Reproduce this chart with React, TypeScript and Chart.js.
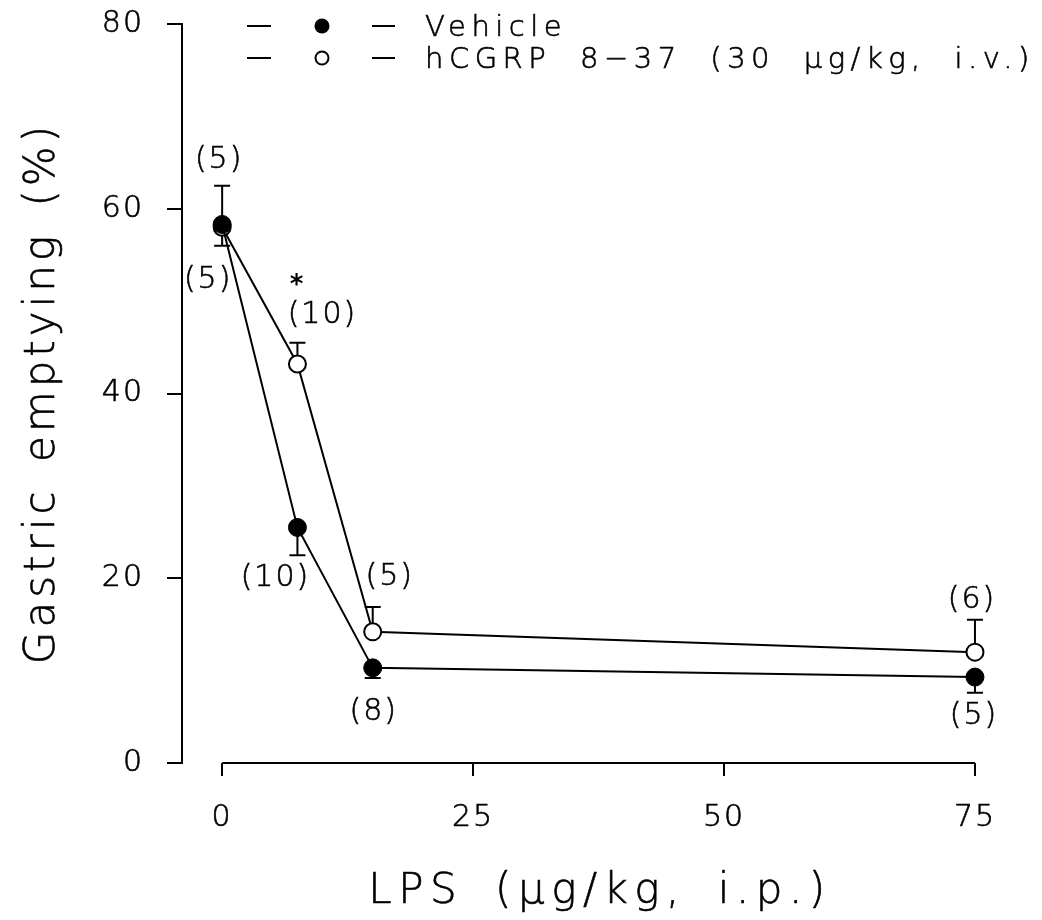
import React, { useEffect, useRef } from "react";
import { Chart, registerables } from "chart.js";

Chart.register(...registerables);

// LPS doses (µg/kg, i.p.)
const doses = [0, 7.5, 15, 75];

// Gastric emptying (%), mean and SEM per group
const vehicleMean = [58.3, 25.5, 10.3, 9.3];
const vehicleSem = [2.3, 3.0, 1.1, 1.7];
const hcgrpMean = [58.0, 43.2, 14.2, 12.0];
const hcgrpSem = [4.5, 2.3, 2.7, 3.5];

// Number of animals per point
const vehicleN = ["(5)", "(10)", "(8)", "(5)"];
const hcgrpN = ["(5)", "(10)", "(5)", "(6)"];
// Significance marker per hCGRP point ("" = none)
const hcgrpSig = ["", "*", "", ""];

const xTickValues = [0, 25, 50, 75];
const yTickValues = [0, 20, 40, 60, 80];

const seriesNames = ["Vehicle", "hCGRP 8\u221237 (30 \u03bcg/kg, i.v.)"];
const xTitle = "LPS (\u03bcg/kg, i.p.)";
const yTitle = "Gastric emptying (%)";

// Label placement (pixel offsets from each point)
const vehicleNOffset: [number, number][] = [[-14, 56], [-22, 51], [1, 44], [-1, 39]];
const hcgrpNOffset: [number, number][] = [[-3, -67], [25, -49], [17, -55], [-3, -52]];
const hcgrpSigOffset: [number, number][] = [[0, 0], [-1, -86], [0, 0], [0, 0]];

const FAMILY = "'DejaVu Sans', sans-serif";
const WEIGHT = 200;
const INK = "#000";
const TEXT_STROKE = 0.6;

export default function App() {
  const canvasRef = useRef<HTMLCanvasElement | null>(null);

  useEffect(() => {
    document.body.style.margin = "0";
    const canvas = canvasRef.current;
    if (!canvas) return;

    const setSpacing = (ctx: any, ls: number, ws = 0) => {
      ctx.letterSpacing = ls + "px";
      ctx.wordSpacing = ws + "px";
    };

    // filled glyphs with a hairline outline to give the light face a pen-like weight
    const text = (ctx: CanvasRenderingContext2D, s: string, x: number, y: number) => {
      ctx.fillText(s, x, y);
      ctx.lineWidth = TEXT_STROKE;
      ctx.strokeText(s, x, y);
    };

    const errorBars = {
      id: "errorBars",
      beforeDatasetsDraw(chart: any) {
        const { ctx, scales } = chart;
        const xs = scales.x;
        const ys = scales.y;
        ctx.save();
        ctx.strokeStyle = INK;
        ctx.lineWidth = 2;
        const draw = (means: number[], sems: number[], dir: number) => {
          means.forEach((m, i) => {
            const px = xs.getPixelForValue(doses[i]);
            const y0 = ys.getPixelForValue(m);
            const y1 = ys.getPixelForValue(m + dir * sems[i]);
            ctx.beginPath();
            ctx.moveTo(px, y0);
            ctx.lineTo(px, y1);
            ctx.moveTo(px - 8, y1);
            ctx.lineTo(px + 8, y1);
            ctx.stroke();
          });
        };
        draw(hcgrpMean, hcgrpSem, 1);
        draw(vehicleMean, vehicleSem, -1);
        ctx.restore();
      },
    };

    const decorations = {
      id: "decorations",
      beforeDraw(chart: any) {
        setSpacing(chart.ctx, 2);
      },
      afterDraw(chart: any) {
        const { ctx, scales } = chart;
        const xs = scales.x;
        const ys = scales.y;
        ctx.save();
        ctx.fillStyle = INK;
        ctx.strokeStyle = INK;

        // x axis line spanning the dose range only
        ctx.lineWidth = 2;
        ctx.beginPath();
        const yb = ys.getPixelForValue(0);
        ctx.moveTo(xs.getPixelForValue(xTickValues[0]), yb);
        ctx.lineTo(xs.getPixelForValue(xTickValues[xTickValues.length - 1]), yb);
        ctx.stroke();

        // n labels
        ctx.font = `${WEIGHT} 30px ${FAMILY}`;
        setSpacing(ctx, 2);
        ctx.textAlign = "center";
        ctx.textBaseline = "middle";
        doses.forEach((d, i) => {
          const px = xs.getPixelForValue(d);
          const pv = ys.getPixelForValue(vehicleMean[i]);
          const ph = ys.getPixelForValue(hcgrpMean[i]);
          text(ctx, vehicleN[i], px + vehicleNOffset[i][0], pv + vehicleNOffset[i][1]);
          text(ctx, hcgrpN[i], px + hcgrpNOffset[i][0], ph + hcgrpNOffset[i][1]);
          if (hcgrpSig[i]) {
            ctx.save();
            ctx.font = `bold 26px ${FAMILY}`;
            setSpacing(ctx, 0);
            ctx.textBaseline = "alphabetic";
            ctx.fillText(hcgrpSig[i], px + hcgrpSigOffset[i][0], ph + hcgrpSigOffset[i][1] + 15);
            ctx.restore();
          }
        });

        // axis titles
        ctx.font = `${WEIGHT} 42px ${FAMILY}`;
        setSpacing(ctx, 6.5, 12);
        ctx.textAlign = "center";
        ctx.textBaseline = "alphabetic";
        text(ctx, xTitle, 600, 903);
        ctx.save();
        ctx.translate(54, 393);
        ctx.rotate(-Math.PI / 2);
        ctx.font = `${WEIGHT} 42px ${FAMILY}`;
        setSpacing(ctx, 4, 8);
        text(ctx, yTitle, 0, 0);
        ctx.restore();

        // legend
        const rows = [
          { y: 26, base: 36, filled: true },
          { y: 58, base: 68, filled: false },
        ];
        rows.forEach((r, i) => {
          ctx.lineWidth = 2;
          ctx.beginPath();
          ctx.moveTo(247, r.y);
          ctx.lineTo(271, r.y);
          ctx.moveTo(372, r.y);
          ctx.lineTo(395, r.y);
          ctx.stroke();
          ctx.beginPath();
          ctx.arc(322, r.y, r.filled ? 7.5 : 6.5, 0, Math.PI * 2);
          if (r.filled) {
            ctx.fill();
          } else {
            ctx.fillStyle = "#fff";
            ctx.fill();
            ctx.fillStyle = INK;
            ctx.stroke();
          }
          ctx.font = `${WEIGHT} 29px ${FAMILY}`;
          setSpacing(ctx, 5.5, 14);
          ctx.textAlign = "left";
          text(ctx, seriesNames[i], 425, r.base);
        });

        ctx.restore();
      },
    };

    const tickFont = { family: FAMILY, size: 30, weight: WEIGHT };
    const tickStyle = { color: INK, font: tickFont, textStrokeColor: INK, textStrokeWidth: TEXT_STROKE, autoSkip: false };

    const chart = new Chart(canvas, {
      type: "line",
      data: {
        datasets: [
          {
            label: seriesNames[0],
            data: doses.map((x, i) => ({ x, y: vehicleMean[i] })),
            borderColor: INK,
            borderWidth: 2,
            pointRadius: 9,
            pointBackgroundColor: INK,
            pointBorderColor: INK,
            pointBorderWidth: 1,
            tension: 0,
            fill: false,
          },
          {
            label: seriesNames[1],
            data: doses.map((x, i) => ({ x, y: hcgrpMean[i] })),
            borderColor: INK,
            borderWidth: 2,
            pointRadius: 8.5,
            pointBackgroundColor: "#fff",
            pointBorderColor: INK,
            pointBorderWidth: 2,
            tension: 0,
            fill: false,
          },
        ],
      },
      options: {
        animation: false,
        responsive: false,
        devicePixelRatio: 1,
        layout: { padding: { top: 24, right: 57, bottom: 0, left: 0 } },
        plugins: { legend: { display: false }, tooltip: { enabled: false } },
        scales: {
          x: {
            type: "linear",
            min: -4,
            max: 76,
            afterBuildTicks: (s: any) => {
              s.ticks = xTickValues.map((v) => ({ value: v }));
            },
            afterFit: (s: any) => {
              s.height = 157;
            },
            grid: { drawOnChartArea: false, drawTicks: true, tickLength: 13, color: INK, lineWidth: 2 },
            border: { display: false },
            ticks: { ...tickStyle, padding: 24, maxRotation: 0 },
          },
          y: {
            type: "linear",
            min: 0,
            max: 80,
            afterBuildTicks: (s: any) => {
              s.ticks = yTickValues.map((v) => ({ value: v }));
            },
            afterFit: (s: any) => {
              s.width = 182;
              s.paddingTop = 0;
              s.paddingBottom = 0;
            },
            grid: { drawOnChartArea: false, drawTicks: true, tickLength: 15, color: INK, lineWidth: 2 },
            border: { display: true, color: INK, width: 2 },
            ticks: { ...tickStyle, padding: 23 },
          },
        },
      },
      plugins: [errorBars, decorations],
    } as any);

    return () => chart.destroy();
  }, []);

  return (
    <div style={{ width: 1042, height: 920, background: "#fff" }}>
      <canvas ref={canvasRef} width={1042} height={920} style={{ display: "block" }} />
    </div>
  );
}
